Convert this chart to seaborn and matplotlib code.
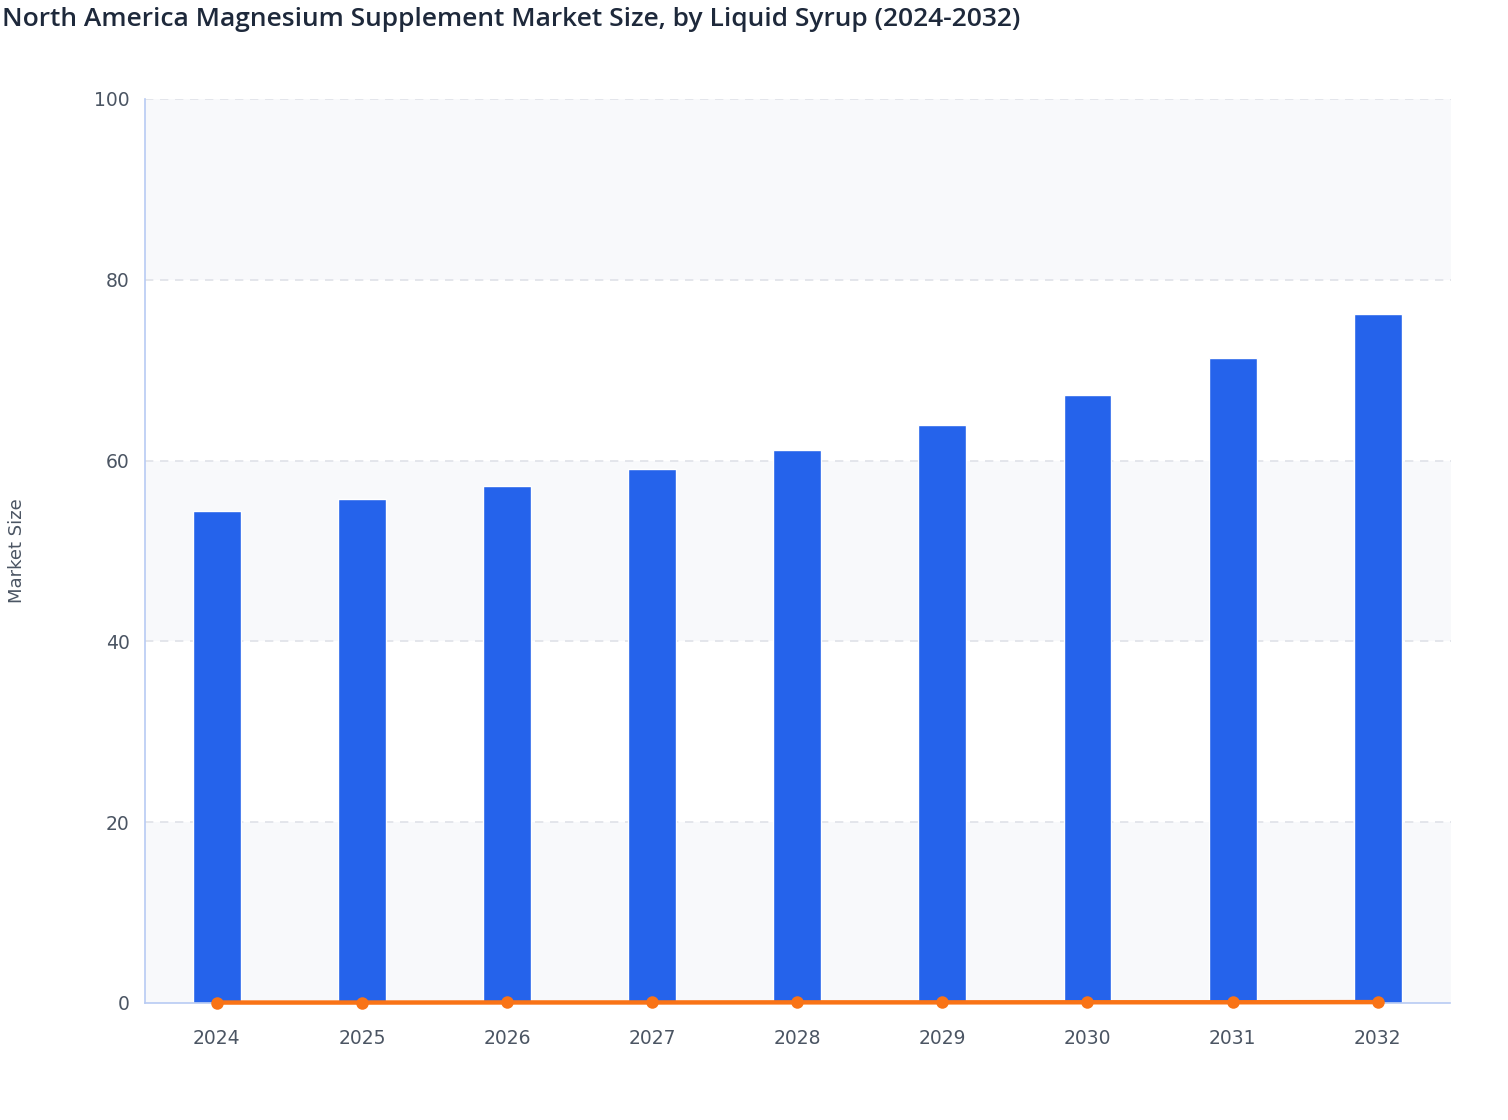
import matplotlib
matplotlib.use("Agg")
import matplotlib.pyplot as plt
import seaborn as sns
import pandas as pd

years = ["2024", "2025", "2026", "2027", "2028", "2029", "2030", "2031", "2032"]
market_size = [54.4, 55.7, 57.2, 59.1, 61.2, 63.9, 67.3, 71.3, 76.2]
growth = [0.05, 0.05, 0.06, 0.06, 0.07, 0.07, 0.08, 0.08, 0.1]
y_ticks = [0, 20, 40, 60, 80, 100]

df = pd.DataFrame({"year": years, "size": market_size, "growth": growth})

sns.set_theme(style="white")
plt.rcParams["font.family"] = ["DejaVu Sans"]

fig = plt.figure(figsize=(15.08, 11.2), dpi=100)
ax = fig.add_axes([145/1508, 1-1003/1120, (1451-145)/1508, (1003-99)/1120])
ax.set_facecolor("white")

# alternating bands
for i in range(0, len(y_ticks) - 1):
    if i % 2 == 0:
        ax.axhspan(y_ticks[i], y_ticks[i+1], color="#f8f9fb", zorder=0, lw=0)

for t in y_ticks[1:]:
    ax.axhline(t, color="#dfe2e8", lw=1.2, ls=(0, (5, 4)), zorder=0.5)

sns.barplot(data=df, x="year", y="size", color="#2563eb", width=0.33,
            saturation=1, ax=ax, zorder=2)
sns.lineplot(data=df, x="year", y="growth", color="#f97316", lw=3.2,
             marker="o", markersize=9, markeredgewidth=0, ax=ax, zorder=3,
             clip_on=False)

ax.set_xlim(-0.495, 8.505)
ax.set_ylim(0, 100)
ax.set_yticks(y_ticks)
ax.set_xlabel("")
ax.set_ylabel("")

for s in ["top", "right"]:
    ax.spines[s].set_visible(False)
ax.spines["left"].set_color("#b8cbf3")
ax.spines["left"].set_linewidth(1.2)
ax.spines["bottom"].set_color("#b8cbf3")
ax.spines["bottom"].set_linewidth(1.2)
ax.spines["bottom"].set_linestyle((0, (1, 1)))

ax.tick_params(axis="both", colors="#b8cbf3", length=7, width=1.2, labelsize=13.5,
               labelcolor="#4b5563")
ax.tick_params(axis="x", pad=12)
ax.tick_params(axis="y", pad=4)

fig.text(2/1508, 1-20/1120, "North America Magnesium Supplement Market Size, by Liquid Syrup (2024-2032)",
         fontsize=19, fontweight="semibold", color="#1e293b", va="center", ha="left",
         family=["Open Sans", "DejaVu Sans"])
fig.text(17/1508, 1-551/1120, "Market Size", rotation=90, fontsize=13, color="#4b5563",
         va="center", ha="center")

fig.savefig("out.png", dpi=100)
